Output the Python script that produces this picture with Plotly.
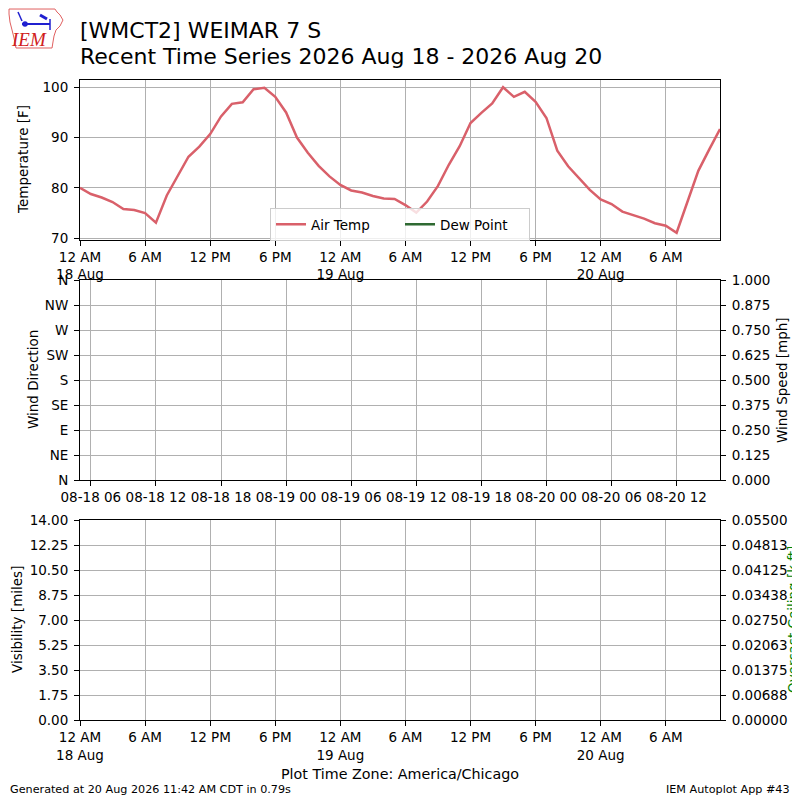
import pandas as pd
import plotly.graph_objects as go

# hourly observations starting 18 Aug 2026 00:00 (America/Chicago)
start = pd.Timestamp("2026-08-18 00:00")
air_temp = [80.0, 78.8, 78.1, 77.2, 75.8, 75.6, 75.0, 73.1, 78.5, 82.3,
            86.2, 88.2, 90.7, 94.2, 96.7, 97.0, 99.6, 99.9, 98.1, 95.0,
            90.0, 87.0, 84.4, 82.3, 80.6, 79.5, 79.1, 78.4, 77.9, 77.8,
            76.6, 75.1, 77.3, 80.4, 84.6, 88.3, 92.9, 94.9, 96.8, 100.0,
            98.1, 99.1, 97.1, 93.9, 87.4, 84.3, 81.9, 79.6, 77.7, 76.8,
            75.3, 74.6, 73.9, 73.0, 72.5, 71.1, 77.3, 83.4, 87.6, 91.7]
times = pd.date_range(start, periods=len(air_temp), freq="h")

dir_labels = ["N", "NE", "E", "SE", "S", "SW", "W", "NW", "N"]
dir_vals = [0, 45, 90, 135, 180, 225, 270, 315, 360]
speed_vals = [i * 0.125 for i in range(9)]
vis_vals = [i * 1.75 for i in range(9)]
ceil_vals = [i * 0.006875 for i in range(9)]
ceil_text = ["0.00000", "0.00688", "0.01375", "0.02063", "0.02750",
             "0.03438", "0.04125", "0.04813", "0.05500"]

# tick labels for the temperature / visibility panels
tick_times = pd.date_range("2026-08-18 00:00", "2026-08-20 06:00", freq="6h")
tick_text = []
for t in tick_times:
    lab = t.strftime("%I %p").lstrip("0")
    if t.hour == 0:
        lab = "12 AM<br>" + t.strftime("%d %b")
    tick_text.append(lab)
mid_ticks = pd.date_range("2026-08-18 06:00", "2026-08-20 12:00", freq="6h")
mid_text = [t.strftime("%m-%d %H") for t in mid_ticks]

FONT = "DejaVu Sans"
RED = "#d9606a"
GREEN = "#2f6a32"

# the page body has an 8px margin, so the figure is 792 wide and
# page pixels are shifted by 8 to get figure coordinates
W = 792
OFF = 8


def px(x, y):
    return (x - OFF) / W, 1 - (y - OFF) / W


def dom(a, b):
    return [px(0, b)[1], px(0, a)[1]]


fig = go.Figure()
fig.add_trace(go.Scatter(x=times, y=air_temp, mode="lines", name="Air Temp",
                         line=dict(color=RED, width=2.5), xaxis="x", yaxis="y"))
fig.add_trace(go.Scatter(x=[None], y=[None], mode="lines", name="Dew Point",
                         line=dict(color=GREEN, width=2.5), xaxis="x", yaxis="y"))
# empty panels
for xa, ya in [("x2", "y2"), ("x2", "y3"), ("x3", "y4"), ("x3", "y5")]:
    fig.add_trace(go.Scatter(x=[None], y=[None], mode="lines", showlegend=False,
                             xaxis=xa, yaxis=ya))

ax = dict(showline=True, linecolor="black", linewidth=1, mirror=True,
          ticks="outside", ticklen=5, tickcolor="black", showgrid=True,
          gridcolor="#b0b0b0", gridwidth=0.8, zeroline=False, automargin=False,
          tickfont=dict(family=FONT, size=13.5, color="black"), ticklabelstandoff=3)
xax = dict(ax, type="date", ticklabelstandoff=0)

xdom = [px(80, 0)[0], px(720, 0)[0]]
xr = [times[0], pd.Timestamp("2026-08-20 11:00")]
fig.update_layout(
    template="none",
    width=W, height=W, margin=dict(l=0, r=0, t=0, b=0, pad=0),
    paper_bgcolor="white", plot_bgcolor="white",
    font=dict(family=FONT, size=13.5, color="black"),
    xaxis=dict(xax, domain=xdom, anchor="y", range=xr,
               tickvals=tick_times, ticktext=tick_text),
    yaxis=dict(ax, domain=dom(80, 239.5), anchor="x", range=[69.76, 101.44],
               tickvals=[70, 80, 90, 100]),
    xaxis2=dict(xax, domain=xdom, anchor="y2",
                range=[pd.Timestamp("2026-08-18 05:00"), pd.Timestamp("2026-08-20 16:00")],
                tickvals=mid_ticks, ticktext=mid_text),
    yaxis2=dict(ax, domain=dom(280, 480), anchor="x2", range=[0, 360],
                tickvals=dir_vals, ticktext=dir_labels, mirror=False),
    yaxis3=dict(ax, overlaying="y2", side="right", anchor="x2", range=[0, 1],
                tickvals=speed_vals, tickformat=".3f", showgrid=False),
    xaxis3=dict(xax, domain=xdom, anchor="y4", range=xr,
                tickvals=tick_times, ticktext=tick_text),
    yaxis4=dict(ax, domain=dom(520, 720), anchor="x3", range=[0, 14],
                tickvals=vis_vals, tickformat=".2f", mirror=False),
    yaxis5=dict(ax, overlaying="y4", side="right", anchor="x3", range=[0, 0.055],
                tickvals=ceil_vals, ticktext=ceil_text, showgrid=False),
    legend=dict(orientation="h", x=px(400, 0)[0], xanchor="center", y=px(0, 208)[1],
                yanchor="top", bgcolor="rgba(255,255,255,0.8)", bordercolor="#cccccc",
                borderwidth=1, font=dict(family=FONT, size=13.5), entrywidth=84,
                itemwidth=30, tracegroupgap=0),
)


def ann(x, y, text, size=13.5, angle=0, xanchor="center", color="black", **kw):
    fx, fy = px(x, y)
    fig.add_annotation(x=fx, y=fy, xref="paper", yref="paper", text=text,
                       showarrow=False, textangle=angle, xanchor=xanchor,
                       yanchor="middle", font=dict(family=FONT, size=size, color=color), **kw)


# titles
ann(78, 30, "[WMCT2] WEIMAR 7 S", size=22, xanchor="left")
ann(78, 57, "Recent Time Series 2026 Aug 18 - 2026 Aug 20", size=22, xanchor="left")

# axis titles
ann(23, 160, "Temperature [F]", angle=-90)
ann(33, 380, "Wind Direction", angle=-90)
ann(782, 380, "Wind Speed [mph]", angle=-90)
ann(17, 620, "Visibility [miles]", angle=-90)
ann(793, 620, "Overcast Ceiling [k ft]", angle=-90, color="green")

# footer
ann(400, 774, "Plot Time Zone: America/Chicago", size=14.3)
ann(8, 789, "Generated at 20 Aug 2026 11:42 AM CDT in 0.79s", size=11.2, xanchor="left")
ann(792, 789, "IEM Autoplot App #43", size=11.2, xanchor="right")

# IEM logo (approximate)
outline = [(9, 9), (55, 9), (57, 12), (60, 15), (63, 20), (60, 26), (56, 30),
           (54, 36), (53, 42), (52, 48), (16, 48), (14, 38), (12, 30), (10, 22),
           (9, 14)]
path = "M " + " L ".join("%.4f,%.4f" % px(a, b) for a, b in outline) + " Z"
fig.add_shape(type="path", path=path, xref="paper", yref="paper",
              line=dict(color="#e06060", width=1))
for (x0, y0, x1, y1, w) in [(22, 24, 50, 24, 2), (50, 19, 50, 30, 1.5),
                            (18, 12, 22, 21, 1.5), (40, 15, 47, 19, 3)]:
    a0, b0 = px(x0, y0)
    a1, b1 = px(x1, y1)
    fig.add_shape(type="line", x0=a0, y0=b0, x1=a1, y1=b1, xref="paper", yref="paper",
                  line=dict(color="#2020d0", width=w))
cx, cy = px(25, 24)
fig.add_shape(type="circle", x0=cx - 0.0035, y0=cy - 0.0035, x1=cx + 0.0035, y1=cy + 0.0035,
              xref="paper", yref="paper", fillcolor="#2020d0", line=dict(width=0))
fx, fy = px(29, 39)
fig.add_annotation(x=fx, y=fy, xref="paper", yref="paper", text="IEM", showarrow=False,
                   xanchor="center", yanchor="middle",
                   font=dict(family="Liberation Serif", size=19, color="#d02020", style="italic"))

fig.write_html("out.html")
